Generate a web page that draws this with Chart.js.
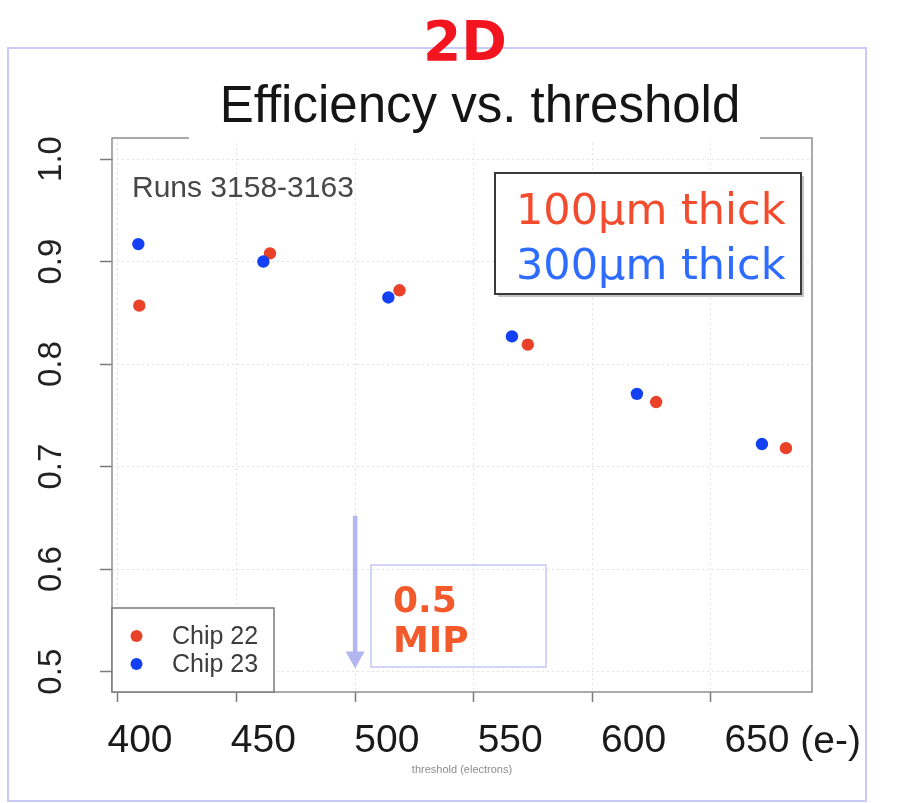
<!DOCTYPE html>
<html>
<head>
<meta charset="utf-8">
<title>Efficiency vs. threshold</title>
<script src="https://cdn.jsdelivr.net/npm/chart.js@4.4.1/dist/chart.umd.min.js"></script>
<style>
    html, body
    {
        margin: 0;
        padding: 0;
        background: #fff;
        overflow: hidden;
    }

    canvas
    {
        display: block;
    }
</style>
</head>
<body>
<canvas id="effChart" width="903" height="803"></canvas>
<script>
// threshold scan, runs 3158-3163
const chip22Threshold = [409.0, 464.1, 518.7, 572.8, 626.9, 681.6];
const chip22Efficiency = [0.857, 0.908, 0.872, 0.819, 0.763, 0.718];

const chip23Threshold = [408.6, 461.3, 514.0, 566.1, 618.8, 671.5];
const chip23Efficiency = [0.917, 0.900, 0.865, 0.827, 0.771, 0.722];

const xTicks = [400, 450, 500, 550, 600, 650];
const yTicks = [0.5, 0.6, 0.7, 0.8, 0.9, 1.0];

const seriesNames = ["Chip 22", "Chip 23"];
const thicknessLabels = ["100μm thick", "300μm thick"];

// 0.5 MIP marker (threshold, arrow from / to efficiency)
const mipThreshold = 500;
const mipArrowFrom = 0.652;
const mipArrowTo = 0.503;

const SANS = "'Liberation Sans', Arial, Helvetica, sans-serif";
const HAND = "'DejaVu Sans', Verdana, sans-serif";

const RED = "#ea4228";
const BLUE = "#1240f2";

function toPoints(xs, ys)
{
    return xs.map((x, i) =>
    {
        return { x: x, y: ys[i] };
    });
}

function fixedTicks(values)
{
    return (scale) =>
    {
        scale.ticks = values.map((v) =>
        {
            return { value: v };
        });
    };
}

function drawText(ctx, text, x, y, font, color, align = "left", baseline = "alphabetic")
{
    ctx.save();
    ctx.font = font;
    ctx.fillStyle = color;
    ctx.textAlign = align;
    ctx.textBaseline = baseline;
    ctx.fillText(text, x, y);
    ctx.restore();
}

function strokeRect(ctx, x1, y1, x2, y2, color, width)
{
    ctx.save();
    ctx.strokeStyle = color;
    ctx.lineWidth = width;
    ctx.strokeRect(x1, y1, x2 - x1, y2 - y1);
    ctx.restore();
}

const slideDecor =
{
    id: "slideDecor",

    beforeDraw(chart)
    {
        const ctx = chart.ctx;

        ctx.save();
        ctx.fillStyle = "#fff";
        ctx.fillRect(0, 0, chart.width, chart.height);
        ctx.restore();

        // slide frame
        strokeRect(ctx, 8, 48, 866, 801, "#cacaf6", 2);
    },

    afterDatasetsDraw(chart)
    {
        const ctx = chart.ctx;
        const area = chart.chartArea;
        const xs = chart.scales.x;
        const ys = chart.scales.y;

        // plot box
        strokeRect(ctx, area.left, area.top, area.right, area.bottom, "#8e8e8e", 1.5);

        // title backdrop hides the middle of the box top
        ctx.save();
        ctx.fillStyle = "#fff";
        ctx.fillRect(189, 70, 571, 70);
        ctx.restore();

        drawText(ctx, "Efficiency vs. threshold", 480, 122, "51px " + SANS, "#151515", "center");
        drawText(ctx, "Runs 3158-3163", 132, 197, "30px " + SANS, "#474747");

        // thickness box
        ctx.save();
        ctx.strokeStyle = "#c4c4c4";
        ctx.lineWidth = 2;
        ctx.beginPath();
        ctx.moveTo(803, 176);
        ctx.lineTo(803, 296);
        ctx.lineTo(498, 296);
        ctx.stroke();
        ctx.restore();
        ctx.save();
        ctx.fillStyle = "#fff";
        ctx.fillRect(495, 173, 306, 121);
        ctx.restore();
        strokeRect(ctx, 495, 173, 801, 294, "#3a3a3a", 2);
        drawText(ctx, thicknessLabels[0], 516, 224, "43px " + HAND, "#f24b2d");
        drawText(ctx, thicknessLabels[1], 516, 279, "43px " + HAND, "#2e6cff");

        // 0.5 MIP arrow
        const ax = xs.getPixelForValue(mipThreshold);
        const aTop = ys.getPixelForValue(mipArrowFrom);
        const aTip = ys.getPixelForValue(mipArrowTo);

        ctx.save();
        ctx.strokeStyle = "#b3b6ee";
        ctx.fillStyle = "#b3b6ee";
        ctx.lineWidth = 4.5;
        ctx.beginPath();
        ctx.moveTo(ax, aTop);
        ctx.lineTo(ax, aTip - 14);
        ctx.stroke();
        ctx.beginPath();
        ctx.moveTo(ax - 9.5, aTip - 17);
        ctx.lineTo(ax + 9.5, aTip - 17);
        ctx.lineTo(ax, aTip);
        ctx.closePath();
        ctx.fill();
        ctx.restore();

        strokeRect(ctx, 371, 565, 546, 667, "#c5c8f6", 1.5);
        drawText(ctx, "0.5", 393, 612, "bold 36px " + HAND, "#f25a2b");
        drawText(ctx, "MIP", 393, 652, "bold 36px " + HAND, "#f25a2b");

        // series legend, lower left
        ctx.save();
        ctx.fillStyle = "#fff";
        ctx.fillRect(area.left, 608, 162, area.bottom - 608);
        ctx.restore();
        strokeRect(ctx, area.left, 608, area.left + 162, area.bottom, "#7a7a7a", 1.5);

        chart.data.datasets.forEach((ds, i) =>
        {
            const cy = 637 + i * 28;

            ctx.save();
            ctx.fillStyle = ds.backgroundColor;
            ctx.beginPath();
            ctx.arc(area.left + 24.5, cy - 1, 6, 0, Math.PI * 2);
            ctx.fill();
            ctx.restore();

            drawText(ctx, ds.label, area.left + 60, cy, "25px " + SANS, "#3c3c3c", "left", "middle");
        });
    },

    afterDraw(chart)
    {
        const ctx = chart.ctx;
        const xl = chart.scales.xLabels;
        const font = "39px " + SANS;

        ctx.save();
        ctx.font = font;
        const last = xTicks[xTicks.length - 1];
        const w = ctx.measureText(String(last)).width;
        const gap = ctx.measureText(" ").width;
        ctx.restore();

        drawText(ctx, "(e-)", xl.getPixelForValue(last) + w / 2 + gap, 742, font, "#1a1a1a", "left", "middle");

        drawText(ctx, "2D", 465, 60, "bold 55px " + HAND, "#f2141e", "center");
    }
};

Chart.defaults.font.family = SANS;

new Chart(document.getElementById("effChart").getContext("2d"),
{
    type: "scatter",
    data:
    {
        datasets:
        [
            {
                label: seriesNames[0],
                data: toPoints(chip22Threshold, chip22Efficiency),
                backgroundColor: RED,
                borderWidth: 0,
                pointRadius: 6.2,
                order: 2
            },
            {
                label: seriesNames[1],
                data: toPoints(chip23Threshold, chip23Efficiency),
                backgroundColor: BLUE,
                borderWidth: 0,
                pointRadius: 6.2,
                order: 1
            }
        ]
    },
    options:
    {
        responsive: false,
        animation: false,
        devicePixelRatio: 1,
        layout:
        {
            padding: { top: 138, left: 32, right: 91, bottom: 26 }
        },
        plugins:
        {
            legend: { display: false },
            title: { display: false },
            tooltip: { enabled: false }
        },
        scales:
        {
            x:
            {
                type: "linear",
                position: "bottom",
                min: 397.5,
                max: 692.6,
                weight: 0,
                afterBuildTicks: fixedTicks(xTicks),
                afterFit(scale)
                {
                    scale.height = 10;
                },
                ticks: { display: false },
                grid:
                {
                    color: "#e2e2e2",
                    lineWidth: 1,
                    drawTicks: true,
                    tickLength: 10,
                    tickColor: "#7a7a7a",
                    tickWidth: 1.5,
                    tickBorderDash: []
                },
                border: { display: false, dash: [2, 3] }
            },
            xLabels:
            {
                type: "linear",
                position: "bottom",
                min: 388.65,
                max: 672.3,
                weight: 1,
                afterBuildTicks: fixedTicks(xTicks),
                afterFit(scale)
                {
                    scale.height = 75;
                },
                ticks:
                {
                    padding: 20,
                    color: "#1a1a1a",
                    autoSkip: false,
                    maxRotation: 0,
                    font: { size: 39, lineHeight: 1 }
                },
                grid: { display: false, drawTicks: false },
                border: { display: false },
                title:
                {
                    display: true,
                    text: "threshold (electrons)",
                    color: "#8c8c8c",
                    font: { size: 11 },
                    padding: { top: 2, bottom: 0 }
                }
            },
            y:
            {
                min: 0.4802,
                max: 1.0205,
                afterBuildTicks: fixedTicks(yTicks),
                afterFit(scale)
                {
                    scale.width = 80;
                },
                ticks:
                {
                    minRotation: 90,
                    maxRotation: 90,
                    crossAlign: "center",
                    padding: 25,
                    color: "#222",
                    font: { size: 33 },
                    callback(value)
                    {
                        return Number(value).toFixed(1);
                    }
                },
                grid:
                {
                    color: "#e2e2e2",
                    lineWidth: 1,
                    drawTicks: true,
                    tickLength: 12,
                    tickColor: "#7a7a7a",
                    tickWidth: 1.5,
                    tickBorderDash: []
                },
                border: { display: false, dash: [2, 3] }
            }
        }
    },
    plugins: [slideDecor]
});
</script>
</body>
</html>
